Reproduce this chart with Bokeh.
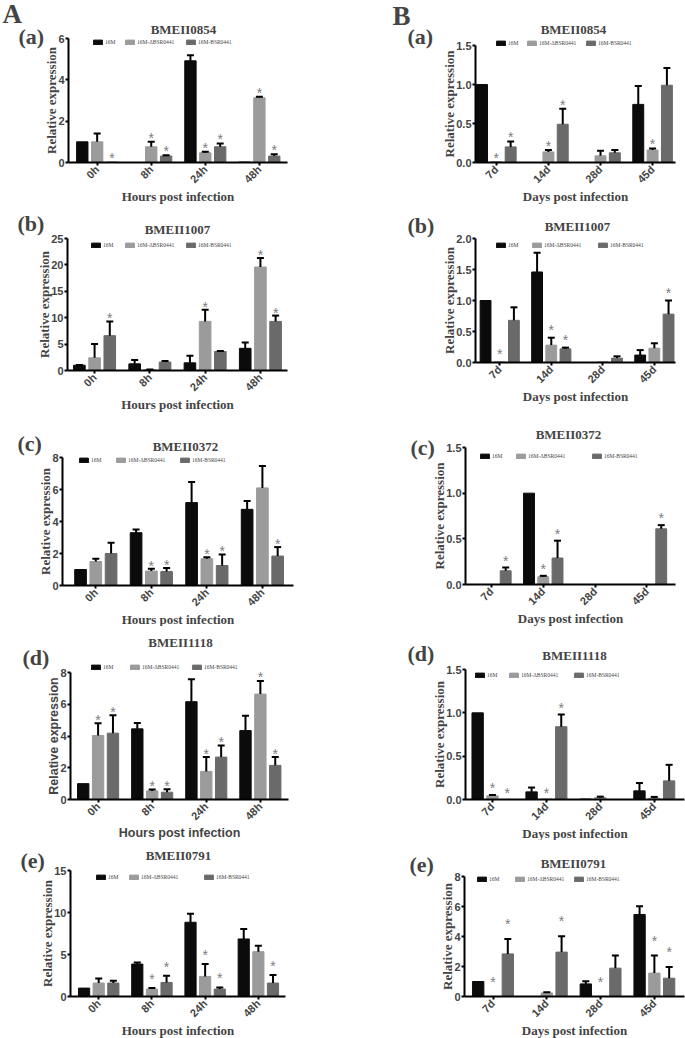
import math
from bokeh.plotting import figure
from bokeh.layouts import column, row
from bokeh.models import (Range1d, FixedTicker, Label, Legend, LegendItem,
                          Whisker, ColumnDataSource, TeeHead, PrintfTickFormatter)
from bokeh.core.properties import value
from bokeh.embed import file_html
from bokeh.resources import INLINE

# ---------------- data ----------------
SERIES = ["16M", "16M-ΔBSR0441", "16M-BSR0441"]
COLORS = ["#0b0b0b", "#9b9b9b", "#6a6a6a"]
HOURS = ["0h", "8h", "24h", "48h"]
DAYS = ["7d", "14d", "28d", "45d"]
GENES = ["BMEII0854", "BMEII1007", "BMEII0372", "BMEII1118", "BMEII0791"]
TAGS = ["(a)", "(b)", "(c)", "(d)", "(e)"]

# Column A : hours post infection  (series order: 16M, 16M-ΔBSR0441, 16M-BSR0441)
A1_MEAN = [[1.0, 0.0, 4.92, 0.02], [1.0, 0.76, 0.47, 3.13], [0.02, 0.31, 0.76, 0.31]]
A1_SD = [[0, 0, 0.27, 0], [0.40, 0.24, 0.05, 0.05], [0, 0.04, 0.16, 0.09]]
A1_STAR = [[0, 0, 0, 0], [0, 1, 1, 1], [1, 1, 1, 1]]

A2_MEAN = [[1.0, 1.26, 1.45, 4.2], [2.4, 0.15, 9.3, 19.6], [6.6, 1.6, 3.6, 9.3]]
A2_SD = [[0.05, 0.74, 1.35, 1.1], [2.6, 0.05, 2.2, 1.7], [2.7, 0.2, 0.1, 1.1]]
A2_STAR = [[0, 0, 0, 0], [0, 0, 1, 1], [1, 0, 0, 1]]

A3_MEAN = [[1.0, 3.3, 5.18, 4.76], [1.5, 0.9, 1.67, 6.1], [2.0, 0.87, 1.25, 1.84]]
A3_SD = [[0, 0.2, 1.29, 0.52], [0.17, 0.14, 0.1, 1.37], [0.67, 0.23, 0.69, 0.56]]
A3_STAR = [[0, 0, 0, 0], [0, 1, 1, 0], [0, 1, 1, 1]]

A4_MEAN = [[1.0, 4.45, 6.16, 4.34], [4.03, 0.54, 1.77, 6.64], [4.18, 0.46, 2.67, 2.15]]
A4_SD = [[0, 0.37, 1.42, 0.94], [0.77, 0.09, 0.9, 0.83], [1.12, 0.19, 0.73, 0.52]]
A4_STAR = [[0, 0, 0, 0], [1, 1, 1, 1], [1, 1, 1, 1]]

A5_MEAN = [[1.0, 3.86, 8.84, 6.85], [1.6, 0.88, 2.39, 5.34], [1.6, 1.67, 0.88, 1.6]]
A5_SD = [[0, 0.2, 1.0, 1.2], [0.55, 0.12, 1.47, 0.71], [0.27, 0.8, 0.2, 0.95]]
A5_STAR = [[0, 0, 0, 0], [0, 1, 1, 0], [0, 1, 1, 1]]

A_YTICKS = [[0, 2, 4, 6], [0, 5, 10, 15, 20, 25], [0, 2, 4, 6, 8], [0, 2, 4, 6, 8], [0, 5, 10, 15]]

# Column B : days post infection
B1_MEAN = [[1.0, 0.0, 0.0, 0.745], [0.01, 0.136, 0.085, 0.16], [0.2, 0.49, 0.124, 0.99]]
B1_SD = [[0, 0, 0, 0.235], [0, 0.024, 0.065, 0.02], [0.07, 0.2, 0.036, 0.22]]
B1_STAR = [[0, 0, 0, 0], [1, 1, 0, 1], [1, 1, 0, 0]]

B2_MEAN = [[1.0, 1.46, 0.0, 0.12], [0.01, 0.28, 0.01, 0.23], [0.68, 0.22, 0.07, 0.78]]
B2_SD = [[0, 0.31, 0, 0.08], [0, 0.12, 0, 0.08], [0.21, 0.02, 0.03, 0.22]]
B2_STAR = [[0, 0, 0, 0], [1, 1, 0, 0], [0, 1, 0, 1]]

B3_MEAN = [[0.0, 1.0, 0.0, 0.0], [0.0, 0.085, 0.0, 0.0], [0.15, 0.29, 0.0, 0.61]]
B3_SD = [[0, 0, 0, 0], [0, 0.01, 0, 0], [0.035, 0.19, 0, 0.04]]
B3_STAR = [[0, 0, 0, 0], [0, 1, 0, 0], [1, 1, 0, 1]]

B4_MEAN = [[1.0, 0.088, 0.005, 0.1], [0.042, 0.005, 0.023, 0.015], [0.0, 0.84, 0.0, 0.215]]
B4_SD = [[0, 0.05, 0, 0.09], [0.01, 0, 0.01, 0.015], [0, 0.14, 0, 0.185]]
B4_STAR = [[0, 0, 0, 0], [1, 1, 0, 0], [1, 1, 0, 0]]

B5_MEAN = [[1.0, 0.0, 0.84, 5.47], [0.0, 0.24, 0.0, 1.56], [2.84, 2.96, 1.89, 1.22]]
B5_SD = [[0, 0, 0.18, 0.55], [0, 0.05, 0, 1.17], [1.0, 1.06, 0.84, 0.74]]
B5_STAR = [[0, 0, 0, 0], [1, 0, 1, 1], [1, 1, 0, 1]]

B_YTICKS = [[0, 0.5, 1.0, 1.5], [0, 0.5, 1.0, 1.5, 2.0], [0, 0.5, 1.0, 1.5], [0, 0.5, 1.0, 1.5], [0, 2, 4, 6, 8]]

# ---------------- layout / style (page pixel geometry) ----------------
ROW_Y = [0, 206, 412, 626, 840]
ROW_H = [206, 206, 214, 214, 198]
COL_X = [0, 342]
COL_W = [342, 343]
OFFS = [-0.275, 0.0, 0.275]
BAR_W = 0.21

# b = distances of the axes box from the figure edges: left, right, top, bottom
GEO_A = [
    dict(b=(68, 55, 38, 44), xr=(-0.53, 3.52), title=(183, 28.5), tag=(18, 36), leg=(92, 124, 185), legy=39, star=7),
    dict(b=(67, 55, 32, 42), xr=(-0.49, 3.49), title=(177, 229), tag=(17, 223), leg=(90, 124, 185), legy=242, star=6),
    dict(b=(62, 49, 45, 41), xr=(-0.60, 3.56), title=(185, 446), tag=(17, 443), leg=(78, 115, 179), legy=457, star=6.3),
    dict(b=(70, 54, 46, 41), xr=(-0.51, 3.52), title=(180, 642), tag=(22, 657), leg=(90, 129, 191), legy=664, star=6.5),
    dict(b=(70, 57, 30, 42), xr=(-0.53, 3.51), title=(178, 855), tag=(20, 860), leg=(95, 128, 203), legy=874, star=12),
]
GEO_B = [
    dict(b=(133, 10, 45, 44), xr=(-0.40, 3.44), title=(573, 28.5), tag=(407, 36), leg=(495, 526, 585), legy=40, star=7),
    dict(b=(133, 10, 32, 50), xr=(-0.47, 3.41), title=(577, 226), tag=(407, 225), leg=(495, 531, 597), legy=242, star=11),
    dict(b=(123, 10, 35, 42), xr=(-0.50, 3.55), title=(568, 434), tag=(410, 447), leg=(479, 515, 591), legy=453, star=10),
    dict(b=(123, 1, 43, 41), xr=(-0.50, 3.56), title=(574, 655), tag=(407, 653), leg=(474, 508, 573), legy=672, star=9.5),
    dict(b=(122, 1, 36, 42), xr=(-0.53, 3.56), title=(573, 863), tag=(409, 864), leg=(476, 514, 573), legy=876, star=18),
]

SERIF = "Liberation Serif"
SANS = "Liberation Sans"
STAR_PX = 14


def make_panel(col, r, cats, mean, sd, star, yticks, geo, xlabel, sans_labels=False, big=None):
    x0, y0, w, h = COL_X[col], ROW_Y[r], COL_W[col], ROW_H[r]
    bl, br, bt, bb = geo["b"]
    xr0, xr1 = geo["xr"]
    ymax = yticks[-1]
    # the plotting frame fills the whole figure; axes are pinned inside it
    kx = (w - bl - br) / (xr1 - xr0)
    ky = (h - bt - bb) / ymax
    p = figure(width=w, height=h, output_backend="svg", toolbar_location=None, title=None,
               x_range=Range1d(xr0 - bl / kx, xr1 + br / kx),
               y_range=Range1d(-bb / ky, ymax + bt / ky),
               min_border=0, min_border_left=0, min_border_right=0,
               min_border_top=0, min_border_bottom=0)
    p.outline_line_color = None
    p.xgrid.visible = False
    p.ygrid.visible = False

    def sx(ax):
        return ax - x0

    def sy(ay):
        return y0 + h - ay

    renderers = []
    for s in range(3):
        xs = [i + OFFS[s] for i in range(len(cats))]
        rr = p.vbar(x=xs, top=mean[s], width=BAR_W, fill_color=COLORS[s], line_color=COLORS[s])
        renderers.append(rr)

    base, lo, up, stx, sty = [], [], [], [], []
    for s in range(3):
        for i in range(len(cats)):
            if sd[s][i] > 0:
                base.append(i + OFFS[s]); lo.append(mean[s][i]); up.append(mean[s][i] + sd[s][i])
            if star[s][i]:
                stx.append(i + OFFS[s]); sty.append(mean[s][i] + sd[s][i])
    wsrc = ColumnDataSource(dict(base=base, lower=lo, upper=up))
    p.add_layout(Whisker(source=wsrc, base="base", lower="lower", upper="upper", dimension="height",
                         line_color="black", line_width=2, level="glyph",
                         upper_head=TeeHead(size=7, line_color="black", line_width=2), lower_head=None))
    ssrc = ColumnDataSource(dict(x=stx, y=sty, t=["*"] * len(stx)))
    p.text(x="x", y="y", text="t", source=ssrc, text_font=value(SANS), text_font_size=f"{STAR_PX}px",
           text_color="#7d7d7d", text_align="center", text_baseline="alphabetic",
           y_offset=-(geo["star"] - 3))

    p.xaxis.ticker = FixedTicker(ticks=list(range(len(cats))))
    p.xaxis.major_label_overrides = {i: c for i, c in enumerate(cats)}
    p.xaxis.major_label_orientation = math.pi / 4
    p.xaxis.fixed_location = 0
    p.xaxis.bounds = (xr0, xr1)
    p.yaxis.ticker = FixedTicker(ticks=yticks)
    if any(t != int(t) for t in yticks):
        p.yaxis.formatter = PrintfTickFormatter(format="%.1f")
    p.yaxis.fixed_location = xr0
    p.yaxis.bounds = (0, ymax)
    lab_font = SANS if sans_labels else SERIF
    for ax in (p.xaxis[0], p.yaxis[0]):
        ax.axis_line_width = 2
        ax.major_tick_line_width = 2
        ax.major_tick_out = 3
        ax.major_tick_in = 0
        ax.minor_tick_line_color = None
        ax.major_label_text_font = SANS
        ax.major_label_text_font_style = "bold"
        ax.major_label_text_font_size = "11px"
        ax.major_label_standoff = 1
        ax.axis_label_text_font = lab_font
        ax.axis_label_text_font_style = "bold"
        ax.axis_label_text_font_size = "12.5px" if sans_labels else "13px"
    p.xaxis.major_label_standoff = 2
    p.xaxis.axis_label_standoff = -3
    p.yaxis.axis_label_standoff = -4
    p.yaxis.axis_label = "Relative expression"
    p.xaxis.axis_label = xlabel

    for s in range(3):
        lg = Legend(items=[LegendItem(label=SERIES[s], renderers=[renderers[s]])],
                    location=(sx(geo["leg"][s]), sy(geo["legy"] + 6)),
                    orientation="horizontal", padding=0, margin=0, spacing=0,
                    glyph_width=11, glyph_height=6, label_height=6, label_width=5, label_standoff=2,
                    label_text_font=SERIF, label_text_font_size="5.5px",
                    border_line_color=None, background_fill_alpha=0)
        p.add_layout(lg)

    tx, ty = geo["title"]
    p.add_layout(Label(x=sx(tx), y=sy(ty), x_units="screen", y_units="screen", text=GENES[r],
                       text_font=SERIF, text_font_style="bold", text_font_size="13px",
                       text_align="center", text_baseline="middle"))
    gx, gy = geo["tag"]
    p.add_layout(Label(x=sx(gx), y=sy(gy), x_units="screen", y_units="screen", text=TAGS[r],
                       text_font=SERIF, text_font_style="bold", text_font_size="22px",
                       text_align="left", text_baseline="middle"))
    if big is not None:
        bx, by, btxt = big
        p.add_layout(Label(x=sx(bx), y=sy(by), x_units="screen", y_units="screen", text=btxt,
                           text_font=SERIF, text_font_style="bold", text_font_size="27px",
                           text_align="left", text_baseline="middle"))
    return p


A_DATA = [(A1_MEAN, A1_SD, A1_STAR), (A2_MEAN, A2_SD, A2_STAR), (A3_MEAN, A3_SD, A3_STAR),
          (A4_MEAN, A4_SD, A4_STAR), (A5_MEAN, A5_SD, A5_STAR)]
B_DATA = [(B1_MEAN, B1_SD, B1_STAR), (B2_MEAN, B2_SD, B2_STAR), (B3_MEAN, B3_SD, B3_STAR),
          (B4_MEAN, B4_SD, B4_STAR), (B5_MEAN, B5_SD, B5_STAR)]

rows = []
for r in range(5):
    ma, sa, sta = A_DATA[r]
    mb, sb, stb = B_DATA[r]
    pa = make_panel(0, r, HOURS, ma, sa, sta, A_YTICKS[r], GEO_A[r], "Hours post infection",
                    sans_labels=(r == 3), big=(2, 13.5, "A") if r == 0 else None)
    pb = make_panel(1, r, DAYS, mb, sb, stb, B_YTICKS[r], GEO_B[r], "Days post infection",
                    big=(392, 15.5, "B") if r == 0 else None)
    rows.append(row(pa, pb, spacing=0))

root = column(*rows, spacing=0)

open("out.html", "w").write(file_html(root, INLINE))
